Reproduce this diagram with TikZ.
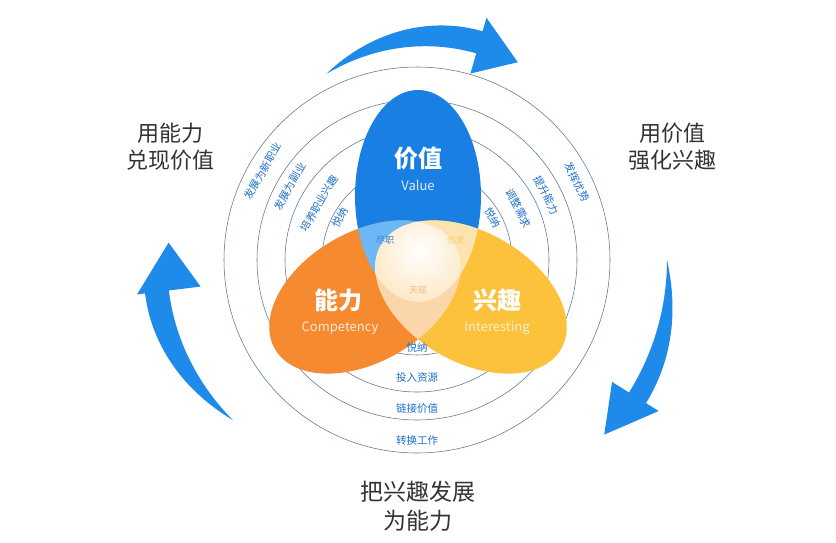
\documentclass[tikz,border=0pt]{standalone}
\usepackage{fontspec}
\setmainfont{Noto Sans CJK SC}
\definecolor{arrowblue}{HTML}{1E8BEA}
\definecolor{petblue}{HTML}{1A7FE2}
\definecolor{petorange}{HTML}{F68A30}
\definecolor{petyellow}{HTML}{FDC23B}
\definecolor{ovbo}{HTML}{6BB8F4}
\definecolor{ovby}{HTML}{FBE3B2}
\definecolor{ovoy}{HTML}{FAD6AA}
\definecolor{ovcenter}{HTML}{FCE9C8}
\definecolor{ringcol}{HTML}{58759A}
\definecolor{lblblue}{HTML}{1A6FCC}
\definecolor{outtxt}{HTML}{333333}
% ellipse as plot: cx, cy, a, b, phi
\newcommand{\ellpath}[5]{plot[domain=0:360,samples=121,variable=\qq] ({#1+#3*cos(\qq)*cos(#5)-#4*sin(\qq)*sin(#5)},{#2-#3*cos(\qq)*sin(#5)-#4*sin(\qq)*cos(#5)}) -- cycle}
\newcommand{\BlueE}{\ellpath{418}{196}{106}{63}{90}}
\newcommand{\OrangeE}{\ellpath{365}{297}{104}{65}{30}}
\newcommand{\YellowE}{\ellpath{471}{297}{104}{65}{150}}
% curved arrow: a0 tail angle, a1 head base angle, a2 tip angle, R0 tail radius,
% body outer r, body inner r, head outer r, head inner r, tip r
\newcommand{\curvedarrow}[9]{%
 \fill[arrowblue] plot[domain=0:1,samples=40,variable=\pp] ({417+(#4+(#5-#4)*sin(90*\pp))*cos(#1+(#2-#1)*\pp)},{260-(#4+(#5-#4)*sin(90*\pp))*sin(#1+(#2-#1)*\pp)})
 -- ({417+#7*cos(#2)},{260-#7*sin(#2)}) -- ({417+#9*cos(#3)},{260-#9*sin(#3)}) -- ({417+#8*cos(#2)},{260-#8*sin(#2)})
 -- plot[domain=1:0,samples=40,variable=\pp] ({417+(#4+(#6-#4)*sin(90*\pp))*cos(#1+(#2-#1)*\pp)},{260-(#4+(#6-#4)*sin(90*\pp))*sin(#1+(#2-#1)*\pp)}) -- cycle;}
\begin{document}
\begin{tikzpicture}[x=1pt,y=-1pt,
  ring/.style={draw=ringcol,line width=0.55pt},
  ringlbl/.style={text=lblblue,font=\fontsize{10.5}{11}\selectfont,inner sep=0pt},
  bigtitle/.style={text=white,font=\fontsize{24}{26}\selectfont\bfseries,inner sep=0pt},
  subtitle/.style={font=\fontsize{13}{14}\selectfont,inner sep=0pt},
  ovlbl/.style={font=\fontsize{9}{10}\selectfont,inner sep=0pt},
  outer/.style={text=outtxt,align=center,inner sep=0pt}]
\useasboundingbox[fill=white] (0,0) rectangle (836,542);
% rings
\foreach \r in {95,132,160,193} \draw[ring] (417,260) circle (\r);
% petals
\fill[petblue] \BlueE;
\fill[petorange] \OrangeE;
\fill[petyellow] \YellowE;
\begin{scope}\clip \BlueE; \fill[ovbo] \OrangeE; \end{scope}
\begin{scope}\clip \BlueE; \fill[ovby] \YellowE; \end{scope}
\begin{scope}\clip \OrangeE; \fill[ovoy] \YellowE; \end{scope}
\begin{scope}\clip \BlueE; \clip \OrangeE; \clip \YellowE;
  \shade[inner color=white,outer color=ovcenter] (420,252) circle (50);
\end{scope}
% petal texts
\node[bigtitle] (vt) at (418,158) {价值};
\node[subtitle,text=white!85!petblue] (vs) at (418,185) {Value};
\node[bigtitle] (ct) at (338,300) {能力};
\node[subtitle,text=white!80!petorange] (cs) at (340,328) {Competency};
\node[bigtitle] (it) at (497,300) {兴趣};
\node[subtitle,text=white!75!petyellow] (is) at (497,328) {Interesting};
\node[ovlbl,text=lblblue!75!ovbo] (o1) at (385,240) {尽职};
\node[ovlbl,text=petyellow!60!ovby] (o2) at (456,240) {热爱};
\node[ovlbl,text=petorange!35!ovoy] (o3) at (418,290) {天赋};
% ring labels left
\node[ringlbl,rotate=61] (l1) at ({417+88*cos(151)},{260-88*sin(151)}) {悦纳};
\node[ringlbl,rotate=60] (l2) at ({417+113*cos(150)},{260-113*sin(150)}) {培养职业兴趣};
\node[ringlbl,rotate=60] (l3) at ({417+147*cos(150)},{260-147*sin(150)}) {发展为副业};
\node[ringlbl,rotate=60] (l4) at ({417+178*cos(150)},{260-178*sin(150)}) {发展为新职业};
% ring labels right
\node[ringlbl,rotate=-61] (r1) at ({417+87*cos(29)},{260-87*sin(29)}) {悦纳};
\node[ringlbl,rotate=-63] (r2) at ({417+114*cos(27)},{260-114*sin(27)}) {调整需求};
\node[ringlbl,rotate=-63.4] (r3) at ({417+145*cos(26.6)},{260-145*sin(26.6)}) {提升能力};
\node[ringlbl,rotate=-64] (r4) at ({417+178*cos(26)},{260-178*sin(26)}) {发挥优势};
% ring labels bottom
\node[ringlbl] (b1) at (417,347) {悦纳};
\node[ringlbl] (b2) at (417,378) {投入资源};
\node[ringlbl] (b3) at (417,409) {链接价值};
\node[ringlbl] (b4) at (417,440) {转换工作};
% arrows
\curvedarrow{116}{74}{63}{207}{238}{215}{252}{194}{222}
\curvedarrow{0}{-32}{-43}{250}{270}{250}{285}{230}{256}
\curvedarrow{221}{187}{176}{244}{274}{250}{282}{218}{249}
% outer texts
\node[outer,font=\fontsize{22}{27}\selectfont] (tl) at (170,147) {用能力\\兑现价值};
\node[outer,font=\fontsize{22}{27}\selectfont] (tr) at (672,147) {用价值\\强化兴趣};
\node[outer,font=\fontsize{23}{29}\selectfont] (bt) at (418,506) {把兴趣发展\\为能力};
\end{tikzpicture}
\end{document}
